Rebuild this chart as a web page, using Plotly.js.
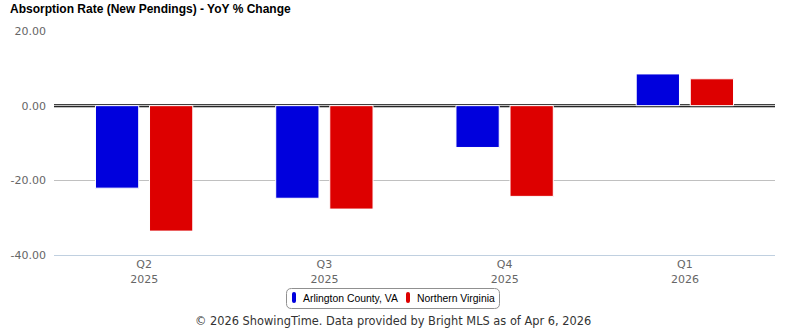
<!DOCTYPE html>
<html>
<head>
<meta charset="utf-8">
<script src="https://cdn.plot.ly/plotly-3.0.1.min.js"></script>
<style>html,body{margin:0;padding:0;background:#fff;}#chart{width:785px;height:330px;}</style>
</head>
<body>
<div id="chart"></div>
<script>
const categories = ["Q2<br>2025", "Q3<br>2025", "Q4<br>2025", "Q1<br>2026"];
const seriesNames = ["Arlington County, VA", "Northern Virginia"];
const arlington = [-22.1, -24.8, -11.2, 8.5];
const northernVA = [-33.6, -27.7, -24.3, 7.2];
const yTicks = [-40, -20, 0, 20];
const yTickLabels = ["-40.00", "-20.00", "0.00", "20.00"];
const colors = ["#0000dd", "#dd0000"];

// plot area in pixels
const PL = 54, PR = 775, PT = 31, PB = 255;
const px = x => (x - PL) / (PR - PL);
const py = y => (PB - y) / (PB - PT);

function roundRect(x0, y0, x1, y1, r) {
  const p = (x, y) => px(x) + "," + py(y);
  return "M" + p(x0 + r, y0) + " L" + p(x1 - r, y0) +
    " Q" + p(x1, y0) + " " + p(x1, y0 + r) +
    " L" + p(x1, y1 - r) + " Q" + p(x1, y1) + " " + p(x1 - r, y1) +
    " L" + p(x0 + r, y1) + " Q" + p(x0, y1) + " " + p(x0, y1 - r) +
    " L" + p(x0, y0 + r) + " Q" + p(x0, y0) + " " + p(x0 + r, y0) + " Z";
}

const traces = [arlington, northernVA].map((vals, i) => ({
  type: "bar",
  name: seriesNames[i],
  x: categories,
  y: vals,
  marker: {color: colors[i], line: {color: "#ffffff", width: 1}},
  hoverinfo: "skip",
  showlegend: false
}));

// custom legend
const legendBox = {x0: 286, y0: 288, x1: 500, y1: 309};
const legendItems = [
  {sx: 292, tx: 301},
  {sx: 406, tx: 415}
];
const shapes = [
  {type: "line", xref: "paper", x0: 0, x1: 1, yref: "y", y0: 0, y1: 0,
   line: {color: "#000000", width: 3}, layer: "below"},
  {type: "line", xref: "paper", x0: 0, x1: 1, yref: "y", y0: 0, y1: 0,
   line: {color: "#ffffff", width: 1}, layer: "below"},
  {type: "path", xref: "paper", yref: "paper",
   path: roundRect(legendBox.x0 + 0.5, legendBox.y0 + 0.5, legendBox.x1 - 0.5, legendBox.y1 - 0.5, 5),
   line: {color: "#909090", width: 1}, fillcolor: "#ffffff"}
];
const annotations = [
  {text: "© 2026 ShowingTime. Data provided by Bright MLS as of Apr 6, 2026",
   xref: "paper", x: px(392.5), xanchor: "center", yref: "paper", y: py(321), yanchor: "middle",
   showarrow: false, font: {family: "DejaVu Sans, sans-serif", size: 11.4, color: "#333333"}}
];
legendItems.forEach((it, i) => {
  shapes.push({type: "path", xref: "paper", yref: "paper",
    path: roundRect(it.sx, 292, it.sx + 4, 303, 2),
    line: {width: 0}, fillcolor: colors[i]});
  annotations.push({text: seriesNames[i], xref: "paper", x: px(it.tx), xanchor: "left",
    yref: "paper", y: py(298.5), yanchor: "middle", showarrow: false,
    font: {family: "Liberation Sans, Arial, sans-serif", size: 10.4, color: "#000000"}});
});

const layout = {
  width: 785, height: 330,
  margin: {l: PL, r: 785 - PR, t: PT, b: 330 - PB},
  paper_bgcolor: "#ffffff", plot_bgcolor: "#ffffff",
  font: {family: "DejaVu Sans, sans-serif", color: "#666666", size: 11},
  title: {text: "<b>Absorption Rate (New Pendings) - YoY % Change</b>",
          xref: "container", x: 10 / 785, xanchor: "left",
          yref: "container", y: 1 - 5 / 330, yanchor: "top",
          font: {family: "Liberation Sans, Arial, sans-serif", size: 12, color: "#000000"}},
  barmode: "group", bargap: 0.4, bargroupgap: 0.2,
  xaxis: {type: "category", showgrid: false, zeroline: false,
          showline: true, linecolor: "#c0d0e0", linewidth: 1,
          ticks: "", tickfont: {size: 11, color: "#666666"}, ticklabelstandoff: -1},
  yaxis: {range: [-40, 20], tickvals: yTicks, ticktext: yTickLabels,
          showgrid: true, gridcolor: "#c0c0c0", gridwidth: 1, zeroline: false,
          ticks: "", ticklabelstandoff: 7, tickfont: {size: 11, color: "#666666"}},
  showlegend: false,
  shapes: shapes,
  annotations: annotations
};

Plotly.newPlot("chart", traces, layout, {displayModeBar: false, staticPlot: true});
</script>
</body>
</html>
